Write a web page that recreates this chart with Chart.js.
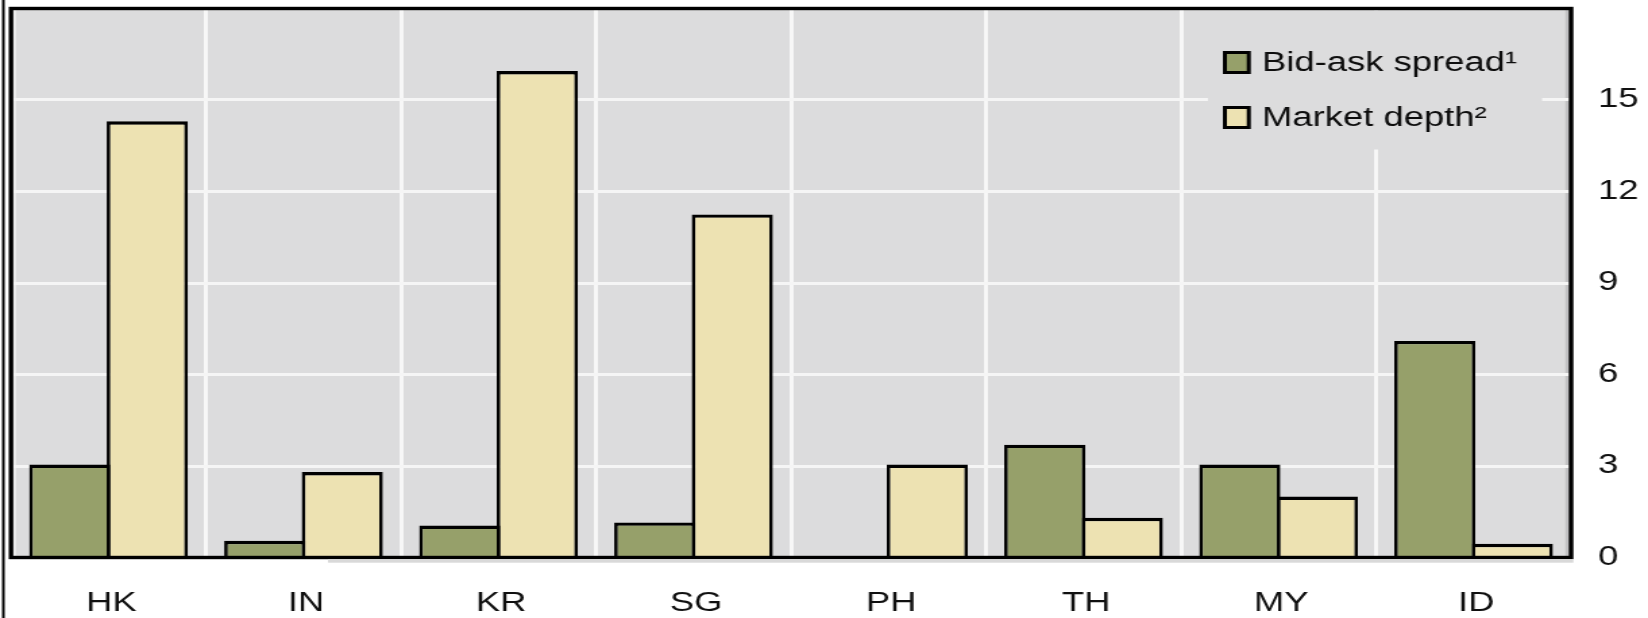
<!DOCTYPE html>
<html>
<head>
<meta charset="utf-8">
<script src="https://cdn.jsdelivr.net/npm/chart.js@4/dist/chart.umd.min.js"></script>
<style>
  html, body { margin: 0; padding: 0; background: #fff; overflow: hidden; }
  /* the drawing surface is widened horizontally to the page width */
  #c { display: block; width: 1648px !important; height: 618px !important; }
</style>
</head>
<body>
<canvas id="c" width="1221" height="618" style="width:1648px;height:618px"></canvas>
<script>
// Markets
const categories = ['HK', 'IN', 'KR', 'SG', 'PH', 'TH', 'MY', 'ID'];

// Bid-ask spread (PH not available)
const bidAskSpread = [3.05, 0.55, 1.05, 1.15, null, 3.7, 3.05, 7.1];

// Market depth
const marketDepth = [14.3, 2.8, 15.95, 11.25, 3.05, 1.3, 2.0, 0.45];

// Right-hand axis ticks
const yTickLabels = [0, 3, 6, 9, 12, 15];
const yMax = 18;

const seriesNames = ['Bid-ask spread\u00B9', 'Market depth\u00B2'];

const GREEN = '#96a06a';
const CREAM = '#ede2b2';
const PANEL = '#dcdcdd';
const FONT = "'Liberation Sans', Arial, sans-serif";

const panelPlugin = {
  id: 'panel',
  beforeDraw(chart) {
    const { ctx, chartArea: a } = chart;
    ctx.save();
    ctx.fillStyle = PANEL;
    ctx.fillRect(a.left, a.top, a.right - a.left, a.bottom - a.top);
    // shading along the inner right edge
    ctx.fillStyle = '#c2c2c4';
    ctx.fillRect(a.right - 4.2, a.top, 2.5, a.bottom - a.top);
    // light strip along the inner left edge
    ctx.fillStyle = '#ececec';
    ctx.fillRect(a.left + 1.7, a.top, 2.2, a.bottom - a.top);
    ctx.restore();
  },
  afterDatasetsDraw(chart) {
    const { ctx, chartArea: a } = chart;
    ctx.save();

    // legend panel inside the plot, top right
    ctx.fillStyle = PANEL;
    ctx.fillRect(895, a.top + 2, 247.5, 139);
    const items = chart.data.datasets.map(ds => ({ text: ds.label, color: ds.backgroundColor }));
    const rowY = [62.5, 117.5];
    items.forEach((it, i) => {
      const y = rowY[i];
      const x = 906, w = 20.7, h = 23;
      ctx.fillStyle = '#000';
      ctx.fillRect(x, y - h / 2, w, h);
      ctx.fillStyle = it.color;
      ctx.fillRect(x + 3, y - h / 2 + 3, w - 6, h - 6);
      ctx.fillStyle = '#0d0d0d';
      ctx.font = '27px ' + FONT;
      ctx.textAlign = 'left';
      ctx.textBaseline = 'middle';
      ctx.fillText(it.text, 935, y + 1);
    });

    // plot frame
    ctx.strokeStyle = '#000';
    ctx.lineWidth = 3.4;
    ctx.strokeRect(a.left, a.top, a.right - a.left, a.bottom - a.top);

    // faint shadow under the base line
    ctx.fillStyle = '#d9d9d9';
    ctx.fillRect(243, a.bottom + 1.7, a.right + 1.7 - 243, 3.5);

    // outer rule on the far left
    ctx.fillStyle = '#000';
    ctx.fillRect(1.5, 0, 2, chart.height);
    ctx.restore();
  }
};

const barBorder = { top: 3.4, left: 2.7, right: 2.7, bottom: 0 };

function noEdgePadding(scale) {
  scale.paddingTop = 0;
  scale.paddingBottom = 0;
  scale.paddingLeft = 0;
  scale.paddingRight = 0;
}

new Chart(document.getElementById('c'), {
  type: 'bar',
  data: {
    labels: categories,
    datasets: [
      {
        label: seriesNames[0],
        data: bidAskSpread,
        backgroundColor: GREEN,
        borderColor: '#000',
        borderWidth: barBorder,
        borderSkipped: 'start'
      },
      {
        label: seriesNames[1],
        data: marketDepth,
        backgroundColor: CREAM,
        borderColor: '#000',
        borderWidth: barBorder,
        borderSkipped: 'start'
      }
    ]
  },
  options: {
    responsive: false,
    devicePixelRatio: 1,
    animation: false,
    events: [],
    categoryPercentage: 0.795,
    barPercentage: 1.047,
    layout: { padding: { left: 8.15, top: 8.5, right: 0, bottom: 0 } },
    plugins: {
      legend: { display: false },
      tooltip: { enabled: false },
      title: { display: false }
    },
    scales: {
      x: {
        offset: true,
        grid: { offset: true, color: '#f7f7f7', lineWidth: 3, drawTicks: false },
        border: { display: false },
        ticks: {
          color: '#101010',
          font: { family: FONT, size: 27 },
          padding: 29.5,
          labelOffset: 2,
          maxRotation: 0,
          autoSkip: false
        },
        afterFit(scale) { scale.height = 60.5; noEdgePadding(scale); }
      },
      y: {
        position: 'right',
        min: 0,
        max: yMax,
        grid: { color: '#f5f5f5', lineWidth: 3, drawTicks: false },
        border: { display: false },
        ticks: {
          stepSize: 3,
          color: '#101010',
          font: { family: FONT, size: 27 },
          padding: 20
        },
        afterBuildTicks(scale) {
          scale.ticks = scale.ticks.filter(t => yTickLabels.includes(t.value));
        },
        afterFit(scale) { scale.width = 57; noEdgePadding(scale); }
      }
    }
  },
  plugins: [panelPlugin]
});
</script>
</body>
</html>
